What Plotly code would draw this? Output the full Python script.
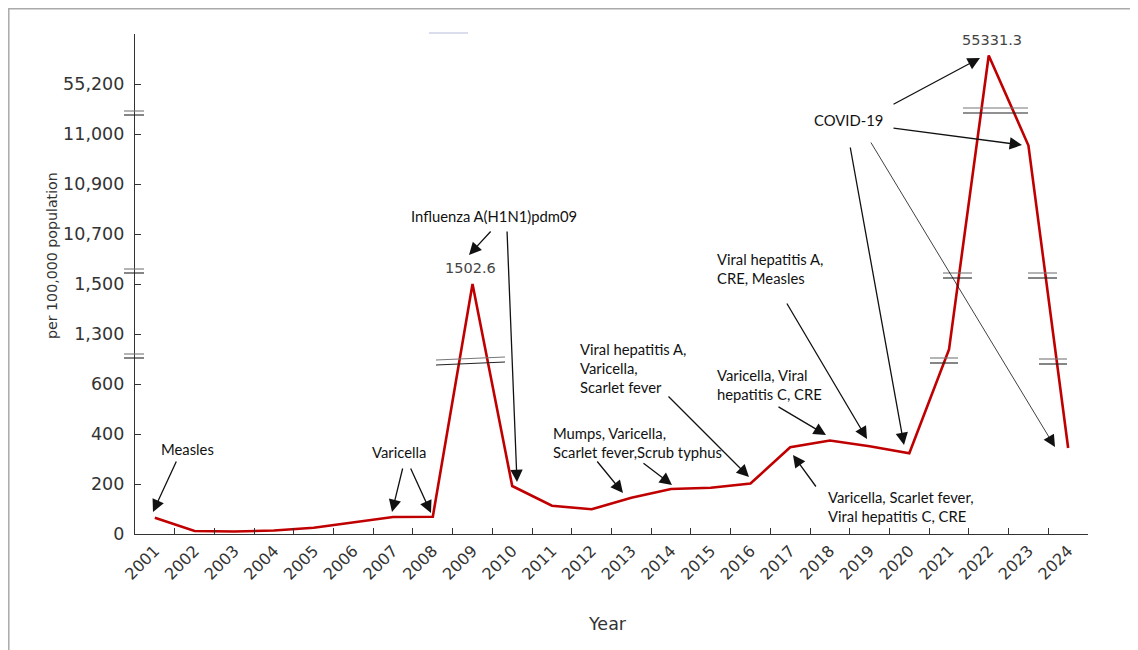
import numpy as np
import plotly.graph_objects as go

# ---------------- data ----------------
years = [str(y) for y in range(2001, 2025)]
rates = [65, 12, 10, 14, 25, 48, 68, 69, 1502.6, 192, 113, 99, 145, 180, 185,
         202, 347, 374, 351, 323, 1085, 55331.3, 10977, 344]

# broken-axis scale: real value -> display position (one tick step per unit)
break_vals = [0, 600, 1300, 1500, 10700, 10900, 11000, 55200, 55430]
break_pos = [0, 3, 4, 5, 6, 7, 8, 9, 10]
tick_pos = [0, 1, 2, 3, 4, 5, 6, 7, 8, 9, 10]
tick_text = ["0", "200", "400", "600", "1,300", "1,500", "10,700", "10,900",
             "11,000", "55,200", ""]

y_disp = np.interp(rates, break_vals, break_pos)

# ---------------- layout geometry (page pixels; page body has 8px margin) ----
OFF = 8
PAGE_W, PAGE_H = 1138, 650
W, H = PAGE_W - OFF, PAGE_H - OFF
AX_L, AX_R, AX_T, AX_B = 135, 1088, 34, 534   # plot-area edges in page px
ML, MR, MT, MB = AX_L - OFF, PAGE_W - AX_R, AX_T - OFF, PAGE_H - AX_B
PW, PH = AX_R - AX_L, AX_B - AX_T


def px(x):
    return (x - AX_L) / PW


def py(y):
    return (AX_B - y) / PH


fig = go.Figure()
fig.add_trace(go.Scatter(x=years, y=y_disp, mode="lines",
                         line=dict(color="#C00000", width=2.6),
                         hoverinfo="skip", showlegend=False))

ann_font = dict(family="Lato, Calibri, sans-serif", size=14.8, color="#111")
num_font = dict(family="DejaVu Sans, Arial, sans-serif", size=14.5, color="#444")

annotations = []

labels = [
    ("Measles", 187, 449, "center"),
    ("Varicella", 399, 452, "center"),
    ("Influenza A(H1N1)pdm09", 494, 216, "center"),
    ("COVID-19", 848, 120, "center"),
    ("Viral hepatitis A,<br>CRE, Measles", 715, 268, "left"),
    ("Varicella, Viral<br>hepatitis C, CRE", 715, 384, "left"),
    ("Varicella, Scarlet fever,<br>Viral hepatitis C, CRE", 826, 506, "left"),
    ("Viral hepatitis A,<br>Varicella,<br>Scarlet fever", 578, 368, "left"),
    ("Mumps, Varicella,<br>Scarlet fever,Scrub typhus", 551, 442, "left"),
]
for t, x, y, anc in labels:
    annotations.append(dict(text=t, x=px(x), y=py(y), xref="paper", yref="paper",
                            xanchor=anc, yanchor="middle", align="left",
                            showarrow=False, font=ann_font))

annotations.append(dict(text="1502.6", x=px(470.5), y=py(268), xref="paper", yref="paper",
                        xanchor="center", yanchor="middle", showarrow=False, font=num_font))
annotations.append(dict(text="55331.3", x=px(992), y=py(40), xref="paper", yref="paper",
                        xanchor="center", yanchor="middle", showarrow=False, font=num_font))

# arrows: (tail_x, tail_y, head_x, head_y, width)
arrows = [
    (177, 460, 153, 512, 1.3),
    (403, 467, 392, 512, 1.3),
    (410, 467, 431, 513, 1.3),
    (492, 230, 469, 255, 1.3),
    (507, 230, 517, 482, 1.3),
    (892, 105, 980, 58, 1.3),
    (892, 128, 1022, 145, 1.3),
    (850, 146, 904, 445, 1.3),
    (870, 141, 1055, 447, 0.8),
    (786, 302, 867, 439, 1.3),
    (777, 406, 826, 435, 1.3),
    (817, 488, 793, 455, 1.3),
    (667, 395, 749, 477, 1.3),
    (596, 460, 623, 493, 1.3),
    (642, 462, 672, 485, 1.3),
]
for tx, ty, hx, hy, w in arrows:
    size = 1.9 if w > 1 else 3.0
    annotations.append(dict(text="", x=px(hx), y=py(hy), xref="paper", yref="paper",
                            ax=tx - hx, ay=ty - hy, axref="pixel", ayref="pixel",
                            showarrow=True, arrowhead=2, arrowsize=size,
                            arrowwidth=w, arrowcolor="#111", standoff=0,
                            startstandoff=0))

annotations.append(dict(text="per 100,000 population", x=px(52), y=py(256),
                        xref="paper", yref="paper", textangle=-90, showarrow=False,
                        xanchor="center", yanchor="middle",
                        font=dict(family="DejaVu Sans, Arial, sans-serif", size=14.2,
                                  color="#333")))
annotations.append(dict(text="Year", x=px(607), y=py(624), xref="paper", yref="paper",
                        showarrow=False, xanchor="center", yanchor="middle",
                        font=dict(family="DejaVu Sans, Arial, sans-serif", size=17.5,
                                  color="#333")))

shapes = []
breaks = [
    ((124, 111, 144, 111), (124, 115, 144, 115)),
    ((124, 269, 144, 269), (124, 273, 144, 273)),
    ((124, 354, 144, 354), (124, 358, 144, 358)),
    ((436, 360, 505, 357), (436, 365, 505, 362)),
    ((930, 358, 958, 358), (930, 363, 958, 363)),
    ((943, 273, 972, 273), (943, 278, 972, 278)),
    ((1028, 273, 1057, 273), (1028, 278, 1057, 278)),
    ((1039, 359, 1067, 359), (1039, 364, 1067, 364)),
    ((963, 108, 1028, 108), (963, 113, 1028, 113)),
]
for pair in breaks:
    for i, (x0, y0, x1, y1) in enumerate(pair):
        shapes.append(dict(type="line", xref="paper", yref="paper",
                           x0=px(x0), y0=py(y0), x1=px(x1), y1=py(y1),
                           line=dict(color="#777" if i == 0 else "#222", width=1.1)))

shapes.append(dict(type="line", xref="paper", yref="paper",
                   x0=px(429), y0=py(33), x1=px(468), y1=py(33),
                   line=dict(color="#cdd2e6", width=1.5)))
# outer frame
shapes.append(dict(type="rect", xref="paper", yref="paper",
                   x0=px(8.8), y0=py(8.8), x1=px(1160), y1=py(680),
                   line=dict(color="#aaa", width=1.5), fillcolor="rgba(0,0,0,0)",
                   layer="below"))

fig.update_layout(
    width=W, height=H,
    margin=dict(l=ML, r=MR, t=MT, b=MB),
    paper_bgcolor="white", plot_bgcolor="white",
    showlegend=False,
    annotations=annotations,
    shapes=shapes,
    xaxis=dict(type="category", range=[-0.5, 23.5], showline=True,
               linecolor="#333", linewidth=1.3, ticks="inside", ticklen=6,
               tickcolor="#333", tickwidth=1.2, tickson="boundaries",
               tickangle=-45, tickfont=dict(family="DejaVu Sans, Arial, sans-serif",
                                            size=16, color="#333"),
               showgrid=False, zeroline=False),
    yaxis=dict(range=[0, 10], showline=True, linecolor="#333", linewidth=1.3,
               ticks="inside", ticklen=6, tickcolor="#333", tickwidth=1.2,
               tickvals=tick_pos, ticktext=tick_text,
               tickfont=dict(family="DejaVu Sans, Arial, sans-serif", size=17.5,
                             color="#333"),
               ticklabelstandoff=6,
               showgrid=False, zeroline=False),
)

fig.write_html("out.html")
